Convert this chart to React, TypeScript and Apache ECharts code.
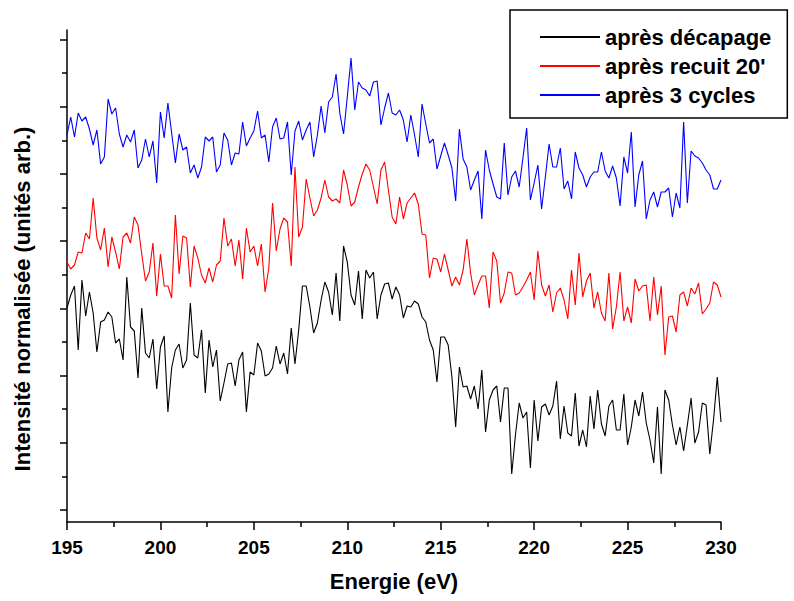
import React, { useEffect, useRef } from "react";
import * as echarts from "echarts";

// Energy grid (eV), 0.2 eV step from 195 to 230
const ENERGY_START = 195;
const ENERGY_STEP = 0.2;
const N_POINTS = 176;
const energies: number[] = Array.from({ length: N_POINTS }, (_, i) =>
  Math.round((ENERGY_START + i * ENERGY_STEP) * 10) / 10
);

const xTickLabels = ["195", "200", "205", "210", "215", "220", "225", "230"];

const seriesNames = ["après décapage", "après recuit 20'", "après 3 cycles"];

// Normalised intensities (arbitrary units)
const apresDecapage: number[] = [
  214, 227, 236, 172, 242, 206, 230, 209, 170, 200, 202, 210, 205, 179, 183, 162, 245, 195, 191, 144,
  214, 169, 164, 183, 133, 175, 186, 110, 154, 172, 178, 154, 162, 219, 167, 164, 192, 129, 182, 155,
  172, 121, 139, 158, 159, 136, 162, 170, 110, 150, 147, 179, 171, 146, 148, 154, 176, 158, 169, 148,
  194, 158, 192, 236, 236, 215, 189, 199, 222, 240, 230, 207, 249, 201, 276, 260, 227, 217, 251, 203,
  252, 244, 250, 203, 227, 238, 239, 223, 235, 227, 204, 216, 215, 221, 218, 205, 200, 182, 172, 140,
  185, 185, 177, 145, 95, 155, 135, 136, 123, 136, 113, 152, 90, 122, 132, 136, 100, 134, 134, 48,
  87, 119, 104, 110, 54, 122, 81, 115, 118, 107, 116, 141, 83, 116, 89, 86, 129, 76, 92, 75,
  126, 93, 132, 98, 86, 116, 122, 92, 92, 128, 77, 95, 122, 106, 130, 99, 82, 59, 115, 48,
  132, 122, 97, 77, 95, 71, 97, 124, 79, 90, 119, 117, 68, 102, 145, 100,
];

const apresRecuit: number[] = [
  260, 253, 257, 270, 269, 289, 283, 324, 284, 272, 294, 255, 285, 270, 253, 285, 289, 279, 305, 297,
  268, 241, 250, 279, 226, 268, 236, 236, 224, 307, 248, 286, 284, 235, 276, 264, 247, 239, 254, 240,
  257, 261, 304, 276, 283, 256, 282, 243, 294, 270, 276, 256, 278, 230, 254, 319, 271, 293, 304, 300,
  256, 355, 285, 295, 343, 324, 306, 312, 324, 342, 325, 321, 323, 319, 352, 337, 316, 320, 335, 348,
  358, 352, 335, 318, 352, 360, 332, 305, 298, 325, 303, 319, 324, 329, 318, 288, 287, 244, 264, 263,
  250, 268, 252, 236, 245, 237, 252, 283, 249, 227, 237, 246, 246, 214, 270, 261, 219, 229, 250, 249,
  227, 229, 235, 242, 250, 222, 271, 237, 226, 237, 210, 229, 234, 222, 203, 252, 217, 269, 225, 241,
  249, 214, 230, 209, 201, 249, 193, 215, 250, 201, 215, 199, 243, 231, 236, 237, 201, 245, 207, 236,
  167, 205, 206, 190, 227, 230, 216, 234, 228, 239, 208, 213, 219, 240, 237, 225,
];

const apres3Cycles: number[] = [
  387, 405, 385, 409, 401, 405, 393, 377, 392, 358, 365, 423, 408, 414, 388, 375, 387, 380, 392, 354,
  362, 383, 365, 381, 339, 410, 384, 419, 389, 359, 388, 372, 375, 349, 357, 344, 355, 385, 381, 385,
  350, 357, 389, 382, 357, 369, 368, 400, 376, 384, 391, 411, 384, 387, 360, 395, 404, 383, 384, 400,
  347, 391, 401, 382, 392, 400, 365, 387, 416, 389, 420, 425, 448, 409, 388, 425, 464, 412, 440, 434,
  432, 426, 440, 441, 397, 414, 429, 409, 407, 412, 402, 380, 407, 387, 365, 418, 398, 379, 383, 353,
  366, 379, 367, 354, 321, 393, 363, 355, 332, 342, 351, 303, 372, 352, 338, 325, 323, 379, 327, 345,
  351, 335, 364, 394, 322, 339, 357, 313, 345, 378, 355, 355, 374, 333, 341, 323, 370, 354, 347, 335,
  345, 350, 350, 370, 351, 344, 356, 344, 316, 365, 349, 390, 315, 347, 361, 303, 322, 330, 315, 330,
  330, 334, 305, 329, 314, 400, 319, 371, 366, 364, 359, 352, 347, 333, 333, 342,
];

// Y axis (no labels): tick values in the same arbitrary units
const Y_MIN = 0;
const Y_MAX = 492;
const Y_TICK_FIRST = 12;
const Y_TICK_STEP = 33.6;
const Y_TICK_COUNT = 15;
const yTickValues = Array.from({ length: Y_TICK_COUNT }, (_, k) => Y_TICK_FIRST + k * Y_TICK_STEP);
const yMajorTicks = yTickValues.filter((_, k) => k % 2 === 0);
const yMinorTicks = yTickValues.filter((_, k) => k % 2 === 1);

const colors = ["#000000", "#ff0000", "#0000ff"];
const FONT = '"Liberation Sans", Arial, Helvetica, sans-serif';

export default function App() {
  const ref = useRef<HTMLDivElement>(null);

  useEffect(() => {
    if (!ref.current) return;
    const chart = echarts.init(ref.current, undefined, { renderer: "svg" });
    const allSeries = [apresDecapage, apresRecuit, apres3Cycles];

    chart.setOption({
      animation: false,
      backgroundColor: "#ffffff",
      grid: { left: 67, right: 73, top: 30, bottom: 79, containLabel: false },
      legend: {
        data: seriesNames,
        orient: "vertical",
        left: 510,
        top: 10,
        padding: [16, 16, 12, 30],
        itemGap: 7,
        itemWidth: 60,
        itemHeight: 2,
        icon: "rect",
        borderColor: "#000",
        borderWidth: 1.5,
        backgroundColor: "#fff",
        textStyle: { fontFamily: FONT, fontWeight: "bold", fontSize: 22, color: "#000" },
      },
      xAxis: {
        type: "value",
        min: 195,
        max: 230,
        interval: 5,
        name: "Energie (eV)",
        nameLocation: "middle",
        nameGap: 48,
        nameTextStyle: { fontFamily: FONT, fontWeight: "bold", fontSize: 22, color: "#000" },
        axisLine: { show: true, onZero: false, lineStyle: { color: "#000", width: 1.5 } },
        axisTick: { show: true, inside: false, length: 8, lineStyle: { color: "#000", width: 1.5 } },
        minorTick: { show: true, splitNumber: 2, length: 5, lineStyle: { color: "#000", width: 1.5 } },
        axisLabel: {
          margin: 16,
          fontFamily: FONT,
          fontWeight: "bold",
          fontSize: 19,
          color: "#000",
          formatter: (v: number) => (xTickLabels.includes(String(v)) ? String(v) : ""),
        },
        splitLine: { show: false },
        minorSplitLine: { show: false },
      },
      yAxis: [
        {
          type: "value",
          min: Y_MIN,
          max: Y_MAX,
          position: "left",
          axisLine: { show: true, onZero: false, lineStyle: { color: "#000", width: 1.5 } },
          axisTick: {
            show: true,
            inside: false,
            length: 7,
            customValues: yMajorTicks,
            lineStyle: { color: "#000", width: 1.5 },
          },
          axisLabel: { show: false },
          splitLine: { show: false },
        },
        {
          type: "value",
          min: Y_MIN,
          max: Y_MAX,
          position: "left",
          offset: 0,
          axisLine: { show: false },
          axisTick: {
            show: true,
            inside: false,
            length: 5,
            customValues: yMinorTicks,
            lineStyle: { color: "#000", width: 1.5 },
          },
          axisLabel: { show: false },
          splitLine: { show: false },
        },
      ],
      graphic: [
        {
          type: "text",
          x: 22,
          y: 299,
          rotation: Math.PI / 2,
          style: {
            text: "Intensité normalisée (unités arb.)",
            fontFamily: FONT,
            fontWeight: "bold",
            fontSize: 22,
            fill: "#000",
            textAlign: "center",
            textVerticalAlign: "middle",
          },
        },
      ],
      series: allSeries.map((vals, s) => ({
        name: seriesNames[s],
        type: "line",
        yAxisIndex: 0,
        showSymbol: false,
        symbol: "none",
        lineStyle: { color: colors[s], width: 1.1 },
        itemStyle: { color: colors[s] },
        data: vals.map((v, i) => [energies[i], v]),
      })),
    });

    return () => chart.dispose();
  }, []);

  return (
    <div
      ref={ref}
      style={{ position: "fixed", left: 0, top: 0, width: 794, height: 601, background: "#fff" }}
    />
  );
}
